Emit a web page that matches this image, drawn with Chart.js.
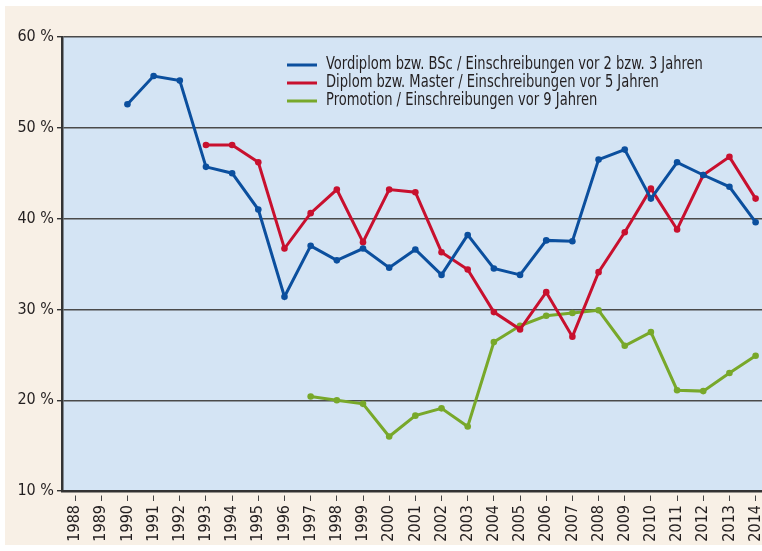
<!DOCTYPE html>
<html lang="de">
<head>
<meta charset="UTF-8">
<script src="https://cdn.jsdelivr.net/npm/chart.js"></script>
<title>Erfolgsquoten</title>
<style>
  html, body { margin: 0; padding: 0; background: #fff; overflow: hidden; }
  #box { position: absolute; left: 5px; top: 6px; width: 767px; height: 539px; background: #f8f0e6; }
</style>
</head>
<body>
<div id="box"><canvas id="quoten" width="767" height="539"></canvas></div>
<script>
// Jahre
const years = ['1988','1989','1990','1991','1992','1993','1994','1995','1996','1997','1998','1999','2000',
  '2001','2002','2003','2004','2005','2006','2007','2008','2009','2010','2011','2012','2013','2014'];

const vordiplom = [null, null, 52.6, 55.7, 55.2, 45.7, 45.0, 41.0, 31.4, 37.0, 35.4, 36.7, 34.6,
  36.6, 33.8, 38.2, 34.5, 33.8, 37.6, 37.5, 46.5, 47.6, 42.2, 46.2, 44.8, 43.5, 39.6];
const diplom = [null, null, null, null, null, 48.1, 48.1, 46.2, 36.7, 40.6, 43.2, 37.4, 43.2,
  42.9, 36.3, 34.4, 29.7, 27.8, 31.9, 27.0, 34.1, 38.5, 43.3, 38.8, 44.8, 46.8, 42.2];
const promotion = [null, null, null, null, null, null, null, null, null, 20.4, 20.0, 19.6, 16.0,
  18.3, 19.1, 17.1, 26.4, 28.2, 29.3, 29.6, 29.9, 26.0, 27.5, 21.1, 21.0, 23.0, 24.9];

const yTicks = [10, 20, 30, 40, 50, 60];

const labels = [
  'Vordiplom bzw. BSc / Einschreibungen vor 2 bzw. 3 Jahren',
  'Diplom bzw. Master / Einschreibungen vor 5 Jahren',
  'Promotion / Einschreibungen vor 9 Jahren'
];
const colors = ['#0b4f9e', '#c8102e', '#78a82a'];

const FONT = '"DejaVu Sans Condensed", "Liberation Sans Narrow", sans-serif';

function ds(label, data, color) {
  return {
    label: label, data: data,
    borderColor: color, backgroundColor: color,
    borderWidth: 3, pointRadius: 3.3, pointHoverRadius: 3.3,
    pointBorderWidth: 0, tension: 0, spanGaps: false
  };
}

// hellblaue Zeichenfläche + Legende im Diagramm
const plotBg = {
  id: 'plotBg',
  beforeDraw(chart) {
    const a = chart.chartArea, c = chart.ctx;
    c.save();
    c.fillStyle = '#d4e4f4';
    c.fillRect(a.left, a.top, a.right - a.left, a.bottom - a.top);
    c.restore();
  },
  afterDatasetsDraw(chart) {
    const c = chart.ctx;
    c.save();
    c.font = '17px ' + FONT;
    c.textBaseline = 'middle';
    chart.data.datasets.forEach((d, i) => {
      const y = 59 + i * 18;
      c.strokeStyle = d.borderColor;
      c.lineWidth = 3;
      c.beginPath();
      c.moveTo(282, y);
      c.lineTo(312, y);
      c.stroke();
      c.fillStyle = '#231f20';
      // schmale Schrift nachahmen
      c.save();
      c.translate(321, y);
      c.scale(0.855, 1);
      c.fillText(d.label, 0, 0);
      c.restore();
    });
    c.restore();
  }
};

new Chart(document.getElementById('quoten'), {
  type: 'line',
  data: {
    labels: years,
    datasets: [
      ds(labels[0], vordiplom, colors[0]),
      ds(labels[1], diplom, colors[1]),
      ds(labels[2], promotion, colors[2])
    ]
  },
  options: {
    responsive: false,
    animation: false,
    layout: { padding: { top: 31, left: 0, right: 0, bottom: 0 } },
    plugins: { legend: { display: false }, tooltip: { enabled: false } },
    scales: {
      x: {
        offset: true,
        grid: {
          drawOnChartArea: false, offset: false, drawTicks: true,
          tickLength: 10, tickColor: '#444', tickWidth: 1, tickBorderDash: [0, 3, 6, 100]
        },
        border: { color: '#333', width: 2.5 },
        ticks: {
          color: '#231f20', font: { family: FONT, size: 16 },
          minRotation: 90, maxRotation: 90, autoSkip: false, padding: 4
        },
        afterFit(s) { s.height = 54; s.paddingLeft = 0; s.paddingRight = 0; }
      },
      y: {
        min: 10, max: 60,
        afterBuildTicks(s) { s.ticks = yTicks.map(v => ({ value: v })); },
        grid: { color: '#4a4a4a', lineWidth: 1.4, tickLength: 5, tickColor: '#333' },
        border: { color: '#333', width: 2.5 },
        ticks: {
          color: '#231f20', font: { family: FONT, size: 16 }, padding: 3,
          callback: v => v + ' %'
        },
        afterFit(s) { s.width = 57; s.paddingTop = 0; s.paddingBottom = 0; }
      }
    }
  },
  plugins: [plotBg]
});
</script>
</body>
</html>
